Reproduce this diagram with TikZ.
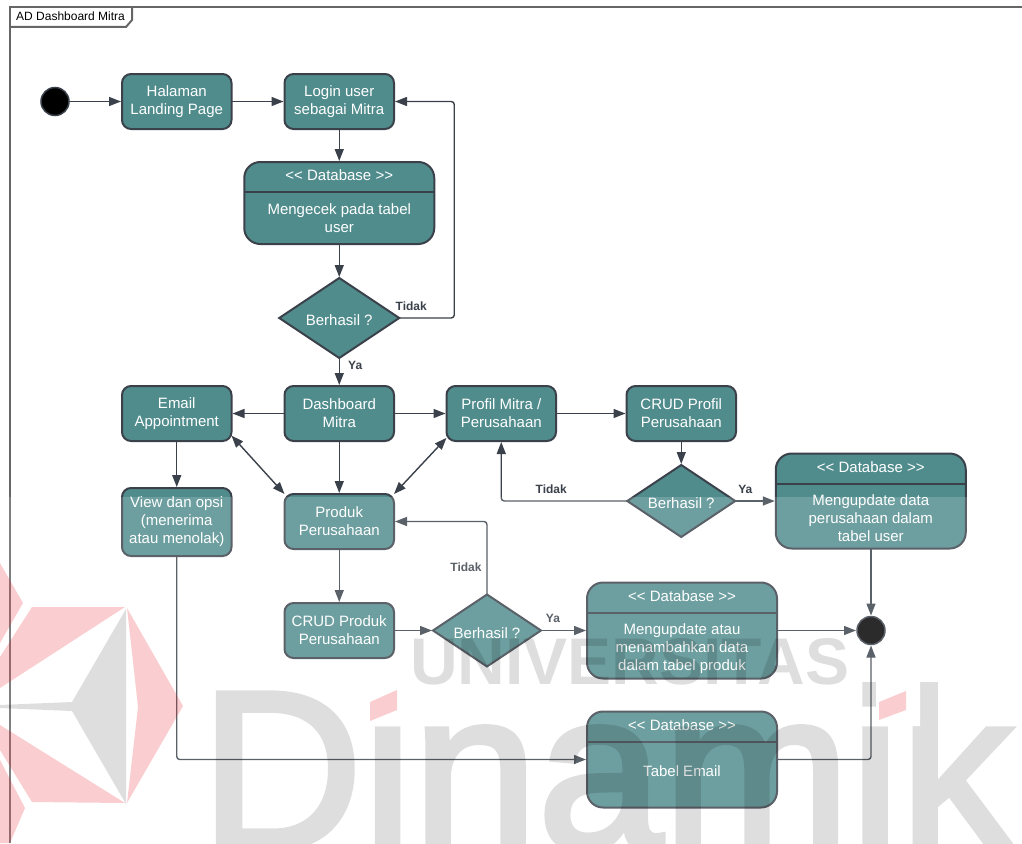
\documentclass[tikz,border=0pt]{standalone}
\usepackage{fontspec}
\setmainfont{Liberation Sans}
\newfontfamily\tebal[FakeBold=2.5]{Liberation Sans}
\usetikzlibrary{positioning,calc,arrows.meta,shapes.geometric}
\definecolor{teal1}{HTML}{518C8D}
\definecolor{garis}{HTML}{3A414A}
\definecolor{logomerah}{HTML}{E8222A}
\tikzstyle{aktivitas} = [draw=garis,line width=2pt,fill=teal1,text=white,rounded corners=9pt,align=center,minimum width=109.5pt,minimum height=55pt,inner sep=0pt,outer sep=0pt,font=\fontsize{15}{18}\selectfont]
\tikzstyle{keputusan} = [diamond,aspect=1.5,draw=garis,line width=2pt,fill=teal1,text=white,inner sep=0pt,outer sep=0pt,minimum width=108pt,minimum height=72pt,text height=15pt,text depth=0pt,font=\fontsize{15}{18}\selectfont]
\tikzstyle{dbbox} = [draw=garis,line width=2pt,fill=teal1,rounded corners=16pt,minimum width=190pt,inner sep=0pt,outer sep=0pt]
\tikzstyle{dbkepala} = [text=white,minimum height=30pt,text height=11pt,text depth=4pt,inner sep=0pt,outer sep=0pt,font=\fontsize{15}{18}\selectfont]
\tikzstyle{dbisi} = [text=white,align=center,inner sep=0pt,outer sep=0pt,font=\fontsize{15}{18}\selectfont]
\tikzstyle{bulat} = [circle,minimum size=28pt,inner sep=0pt,outer sep=0pt,line width=1.5pt]
\tikzstyle{panah} = [-{Triangle[length=12pt,width=9pt]},line width=1.4pt,draw=garis,rounded corners=3pt,shorten >=1pt]
\tikzstyle{duapanah} = [{Triangle[length=12pt,width=9pt]}-{Triangle[length=12pt,width=9pt]},line width=1.4pt,draw=garis]
\tikzstyle{ket} = [font=\bfseries\fontsize{12}{14}\selectfont,text=garis,inner sep=0pt]
\begin{document}
\begin{tikzpicture}[x=1pt,y=1pt,node distance=53pt]
    \useasboundingbox (0,0) rectangle (1022,-843);
    % frame
    \draw[line width=2pt,draw=black!60] (1022,-7) -- (10,-7) -- (10,-843);
    \node[inner sep=0pt,anchor=west,font=\fontsize{12}{14}\selectfont] (judul) at (16,-16.5) {AD Dashboard Mitra};
    \draw[line width=2pt,draw=black!60] (132,-7) -- (132,-20) -- (126,-27) -- (10,-27);
    % top row
    \node[bulat,fill=black,draw=garis] (mulai) at (55,-101.5) {};
    \node[aktivitas] (halaman) [right = of mulai] {Halaman\\Landing Page};
    \node[aktivitas] (login) [right = of halaman] {Login user\\sebagai Mitra};
    \node[dbbox,minimum height=82pt] (cekdb) [below = 33pt of login] {};
    \node[dbkepala] (cekdbkepala) [below = 0pt of cekdb.north] {<{}< Database >{}>};
    \node[dbisi,minimum height=52pt] (cekdbisi) [below = 0pt of cekdbkepala] {Mengecek pada tabel\\user};
    \draw[line width=2pt,draw=garis] (cekdb.west |- cekdbkepala.south) -- (cekdb.east |- cekdbkepala.south);
    \node[keputusan,minimum width=120pt,minimum height=80pt] (cekhasil) [below = 34pt of cekdb] {Berhasil ?};
    % middle row
    \node[aktivitas] (dashboard) [below = 28pt of cekhasil] {Dashboard\\Mitra};
    \node[aktivitas] (email) [left = of dashboard] {Email\\Appointment};
    \node[aktivitas] (profil) [right = 52.5pt of dashboard] {Profil Mitra /\\Perusahaan};
    \node[aktivitas] (crudprofil) [right = 70.5pt of profil] {CRUD Profil\\Perusahaan};
    \node[keputusan] (profilhasil) [below = 24pt of crudprofil] {Berhasil ?};
    \node[dbbox,minimum height=95pt] (dbprofil) [right = 40.5pt of profilhasil] {};
    \node[dbkepala] (dbprofilkepala) [below = 0pt of dbprofil.north] {<{}< Database >{}>};
    \node[dbisi,minimum height=68pt] (dbprofilisi) [below = 1pt of dbprofilkepala] {Mengupdate data\\perusahaan dalam\\tabel user};
    \draw[line width=2pt,draw=garis] (dbprofil.west |- dbprofilkepala.south) -- (dbprofil.east |- dbprofilkepala.south);
    \node[aktivitas,minimum height=68pt] (view) [below = 47pt of email] {View dan opsi\\(menerima\\atau menolak)};
    \node[aktivitas] (produk) [below = of dashboard] {Produk\\Perusahaan};
    % lower row
    \node[aktivitas] (crudproduk) [below = 54pt of produk] {CRUD Produk\\Perusahaan};
    \node[keputusan] (produkhasil) [right = 39pt of crudproduk] {Berhasil ?};
    \node[dbbox,minimum height=96pt] (dbproduk) [right = 46pt of produkhasil] {};
    \node[dbkepala] (dbprodukkepala) [below = 0pt of dbproduk.north] {<{}< Database >{}>};
    \node[dbisi,minimum height=70pt] (dbprodukisi) [below = 1pt of dbprodukkepala] {Mengupdate atau\\menambahkan data\\dalam tabel produk};
    \draw[line width=2pt,draw=garis] (dbproduk.west |- dbprodukkepala.south) -- (dbproduk.east |- dbprodukkepala.south);
    \node[bulat,fill=black,draw=garis] (selesai) [right = 80pt of dbproduk] {};
    \node[dbbox,minimum height=96pt] (dbemail) [below = 33pt of dbproduk] {};
    \node[dbkepala] (dbemailkepala) [below = 0pt of dbemail.north] {<{}< Database >{}>};
    \node[dbisi,minimum height=60pt] (dbemailisi) [below = 0pt of dbemailkepala] {Tabel Email};
    \draw[line width=2pt,draw=garis] (dbemail.west |- dbemailkepala.south) -- (dbemail.east |- dbemailkepala.south);
    % connectors
    \draw[panah] (mulai) -- (halaman);
    \draw[panah] (halaman) -- (login);
    \draw[panah] (login) -- (cekdb);
    \draw[panah] (cekdb) -- (cekhasil);
    \draw[panah] (cekhasil) -- (dashboard);
    \draw[panah] (cekhasil.east) -- ++(55,0) |- (login.east);
    \draw[panah] (dashboard) -- (email);
    \draw[panah] (dashboard) -- (profil);
    \draw[panah] (dashboard) -- (produk);
    \draw[panah] (email) -- (view);
    \draw[duapanah] (email.-22) -- (produk.north west);
    \draw[duapanah] (produk.north east) -- (profil.204);
    \draw[panah] (profil) -- (crudprofil);
    \draw[panah] (crudprofil) -- (profilhasil);
    \draw[panah] (profilhasil.east) -- (dbprofil.west |- profilhasil.east);
    \draw[panah] (profilhasil.west) -| (profil.south);
    \draw[panah] (produk) -- (crudproduk);
    \draw[panah] (crudproduk) -- (produkhasil);
    \draw[panah] (produkhasil.east) -- (dbproduk.west |- produkhasil.east);
    \draw[panah] (produkhasil.north) |- (produk.east);
    \draw[panah] (dbproduk.east) -- (selesai.west);
    \draw[panah] (selesai.north |- dbprofil.south) -- (selesai.north);
    \draw[panah] (view.south) |- (dbemail.west);
    \draw[panah] (dbemail.east) -| (selesai.south);
    % labels
    \node[ket] (tidaklogin) at ($(cekhasil.east)+(12,12)$) {Tidak};
    \node[ket] (yalogin) at ($(cekhasil.south)+(16,-7)$) {Ya};
    \node[ket] (tidakprofil) at ($(profilhasil.west)+(-76,12)$) {Tidak};
    \node[ket] (yaprofil) at ($(profilhasil.east)+(10,12)$) {Ya};
    \node[ket] (tidakproduk) at ($(produkhasil.north)+(-21,27)$) {Tidak};
    \node[ket] (yaproduk) at ($(produkhasil.east)+(12,12)$) {Ya};
    % watermark on top of everything
    \begin{scope}
        \clip (0,0) rectangle (1022,-843);
        \fill[white,opacity=.17] (0,-497) rectangle (1022,-843);
        \fill[black,opacity=.13] (126,-609) -- (72,-702) -- (0,-705) -- (0,-708) -- (72,-711) -- (126,-804) -- cycle;
        \fill[logomerah,opacity=.22] (127,-608) -- (183,-706) -- (127,-803) -- (138,-707) -- cycle;
        \fill[logomerah,opacity=.22] (32,-607) -- (125,-607) -- (0,-688) -- (0,-657) -- cycle;
        \fill[logomerah,opacity=.22] (0,-563) -- (23,-603) -- (0,-643) -- cycle;
        \fill[logomerah,opacity=.22] (0,-725) -- (125,-803) -- (32,-802) -- (0,-750) -- cycle;
        \fill[logomerah,opacity=.22] (0,-760) -- (25,-808) -- (10,-843) -- (0,-843) -- cycle;
        \node[inner sep=0pt,anchor=base west,opacity=.13,font=\bfseries\fontsize{66}{66}\selectfont] (univ) at (410,-684) {UNIVERSITAS};
        \begin{scope}[transparency group,opacity=.13]
            \node[inner sep=0pt,anchor=base west,font=\tebal\fontsize{225}{225}\selectfont] (dinamika) at (200,-848) {Dinamik};
            % the dots of the two i stay red, so they are blanked here
            \fill[white] (368,-672) rectangle (412,-726);
            \fill[white] (876,-672) rectangle (920,-726);
        \end{scope}
        \fill[logomerah,opacity=.22] (370,-702) -- (397,-690) -- (397,-710) -- (370,-721) -- cycle;
        \fill[logomerah,opacity=.22] (879,-702) -- (906,-691) -- (906,-710) -- (879,-720) -- cycle;
    \end{scope}
\end{tikzpicture}
\end{document}
